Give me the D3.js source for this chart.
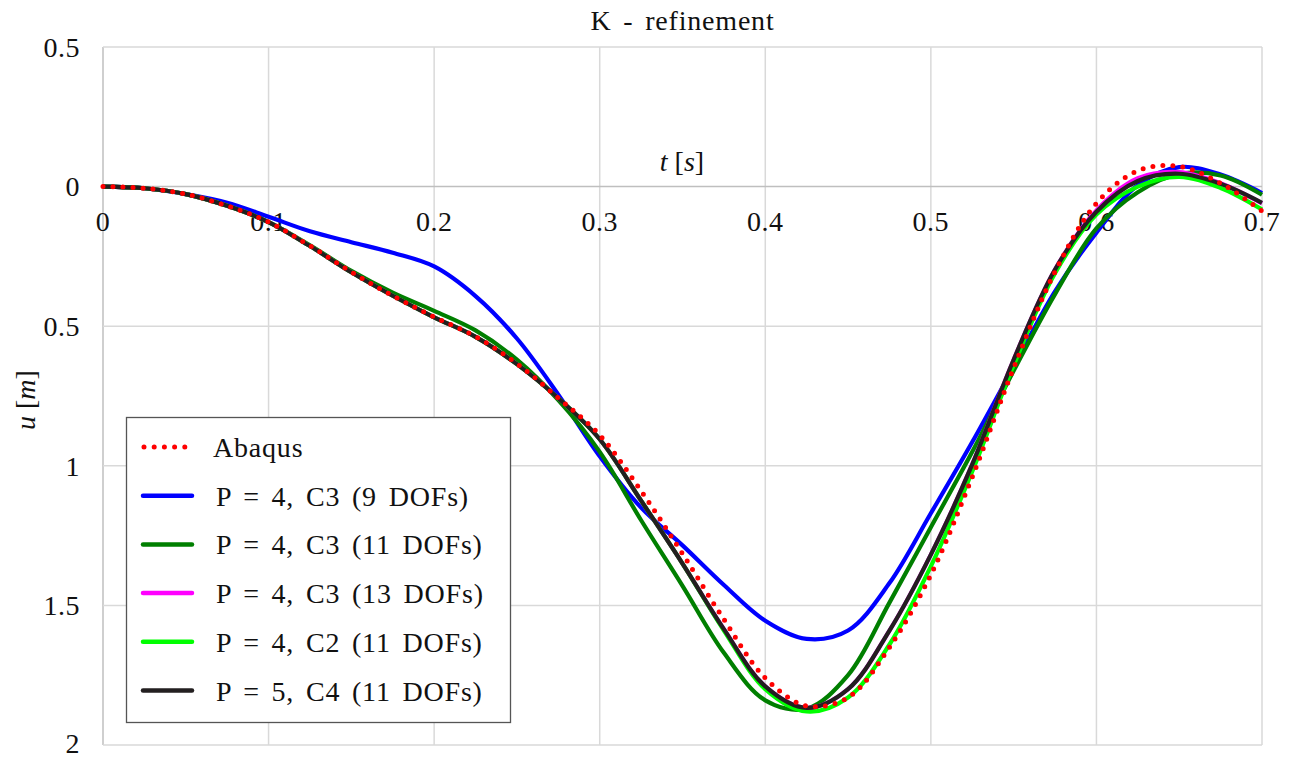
<!DOCTYPE html>
<html>
<head>
<meta charset="utf-8">
<script src="https://cdn.jsdelivr.net/npm/d3@7"></script>
<style>
  html, body { margin: 0; padding: 0; background: #fff; }
  svg text { font-family: "Liberation Serif", "DejaVu Serif", serif; fill: #111; }
</style>
</head>
<body>
<div id="app"></div>
<script>
// time samples shared by every series (s)
const times = [0, 0.025, 0.05, 0.075, 0.1, 0.125, 0.15, 0.175, 0.2, 0.225, 0.25, 0.275,
  0.3, 0.325, 0.35, 0.375, 0.4, 0.425, 0.45, 0.475, 0.5, 0.525, 0.55, 0.575,
  0.6, 0.625, 0.65, 0.675, 0.7];

// displacement u [m] (positive downward as plotted)
const abaqus = [0, 0.006, 0.027, 0.069, 0.127, 0.212, 0.306, 0.391, 0.467, 0.537, 0.634, 0.757,
  0.89, 1.09, 1.315, 1.55, 1.76, 1.86, 1.83, 1.65, 1.39, 1.04, 0.65, 0.305,
  0.06, -0.057, -0.072, -0.012, 0.088];
const p4c3dof9 = [0, 0.006, 0.027, 0.058, 0.108, 0.16, 0.199, 0.237, 0.286, 0.392, 0.544, 0.745,
  0.966, 1.15, 1.285, 1.427, 1.555, 1.62, 1.59, 1.42, 1.17, 0.915, 0.645, 0.375,
  0.165, -0.005, -0.07, -0.043, 0.023];
const p4c3dof11 = [0, 0.006, 0.027, 0.069, 0.127, 0.21, 0.302, 0.38, 0.445, 0.515, 0.62, 0.765,
  0.95, 1.195, 1.43, 1.67, 1.84, 1.87, 1.75, 1.49, 1.22, 0.95, 0.66, 0.385,
  0.15, 0.02, -0.045, -0.04, 0.029];
const p4c3dof13 = [0, 0.006, 0.027, 0.069, 0.127, 0.213, 0.307, 0.391, 0.468, 0.538, 0.636, 0.758,
  0.905, 1.125, 1.35, 1.585, 1.79, 1.867, 1.80, 1.59, 1.318, 0.995, 0.62, 0.297,
  0.085, -0.03, -0.052, -0.012, 0.06];
const p4c2dof11 = [0, 0.006, 0.027, 0.069, 0.127, 0.213, 0.307, 0.391, 0.468, 0.538, 0.636, 0.758,
  0.905, 1.125, 1.35, 1.59, 1.80, 1.88, 1.83, 1.64, 1.36, 1.02, 0.64, 0.31,
  0.1, 0.0, -0.035, 0.005, 0.082];
const p5c4dof11 = [0, 0.006, 0.027, 0.069, 0.127, 0.213, 0.307, 0.391, 0.468, 0.538, 0.636, 0.758,
  0.905, 1.125, 1.35, 1.585, 1.79, 1.867, 1.80, 1.59, 1.318, 0.995, 0.62, 0.297,
  0.09, -0.02, -0.046, -0.01, 0.058];

const seriesNames = ["Abaqus", "P = 4, C3 (9 DOFs)", "P = 4, C3 (11 DOFs)",
  "P = 4, C3 (13 DOFs)", "P = 4, C2 (11 DOFs)", "P = 5, C4 (11 DOFs)"];
const seriesColors = ["#ff0000", "#0000ff", "#007f00", "#ff00ff", "#00ff00", "#231f20"];
const seriesValues = [abaqus, p4c3dof9, p4c3dof11, p4c3dof13, p4c2dof11, p5c4dof11];

const xTicks = [0, 0.1, 0.2, 0.3, 0.4, 0.5, 0.6, 0.7];
const yTicks = [-0.5, 0, 0.5, 1, 1.5, 2];

const W = 1291, H = 758;
const margin = { top: 47, right: 29, bottom: 13, left: 103 };

const svg = d3.select('#app').append('svg')
  .attr('width', W).attr('height', H);

const x = d3.scaleLinear().domain([0, 0.7]).range([margin.left, W - margin.right]);
const y = d3.scaleLinear().domain([-0.5, 2]).range([margin.top, H - margin.bottom]);

// grid
const grid = svg.append('g');
grid.selectAll('line.v').data(xTicks).join('line')
  .attr('x1', d => x(d)).attr('x2', d => x(d))
  .attr('y1', y(-0.5)).attr('y2', y(2))
  .attr('stroke', d => d === 0 ? '#bfbfbf' : '#d9d9d9').attr('stroke-width', 1.5);
grid.selectAll('line.h').data(yTicks).join('line')
  .attr('x1', x(0)).attr('x2', x(0.7))
  .attr('y1', d => y(d)).attr('y2', d => y(d))
  .attr('stroke', d => d === 0 ? '#bfbfbf' : '#d9d9d9').attr('stroke-width', 1.5);

// y tick labels (shown as magnitudes)
svg.append('g').selectAll('text').data(yTicks).join('text')
  .attr('x', 80).attr('y', d => d === 2 ? y(d) - 2 : y(d))
  .attr('dy', '0.35em')
  .attr('text-anchor', 'end')
  .attr('font-size', 28)
  .style('letter-spacing', '0.5px')
  .text(d => String(Math.abs(d)));

// x tick labels below the zero line
svg.append('g').selectAll('text').data(xTicks).join('text')
  .attr('x', d => x(d)).attr('y', y(0) + 44)
  .attr('text-anchor', 'middle')
  .attr('font-size', 28)
  .style('letter-spacing', '0.5px')
  .text(d => String(d));

// title and axis labels
svg.append('text').attr('x', (x(0) + x(0.7)) / 2).attr('y', 30)
  .attr('text-anchor', 'middle').attr('font-size', 28)
  .style('word-spacing', '4px').style('letter-spacing', '0.8px')
  .text('K - refinement');

const tl = svg.append('text').attr('x', 682).attr('y', 171)
  .attr('text-anchor', 'middle').attr('font-size', 28);
tl.append('tspan').attr('font-style', 'italic').text('t');
tl.append('tspan').text(' [');
tl.append('tspan').attr('font-style', 'italic').text('s');
tl.append('tspan').text(']');

const ul = svg.append('text')
  .attr('transform', `translate(35,${(y(-0.5) + y(2)) / 2 + 4}) rotate(-90)`)
  .attr('text-anchor', 'middle').attr('font-size', 28);
ul.append('tspan').attr('font-style', 'italic').text('u');
ul.append('tspan').text(' [');
ul.append('tspan').attr('font-style', 'italic').text('m');
ul.append('tspan').text(']');

// curves
const line = d3.line()
  .x((d, i) => x(times[i]))
  .y(d => y(d))
  .curve(d3.curveCatmullRom.alpha(0.5));

const drawOrder = [1, 2, 3, 4, 5, 0];
const curves = svg.append('g');
drawOrder.forEach(k => {
  const p = curves.append('path')
    .attr('d', line(seriesValues[k]))
    .attr('fill', 'none')
    .attr('stroke', seriesColors[k]);
  if (k === 0) {
    p.attr('stroke-width', 5).attr('stroke-linecap', 'round').attr('stroke-dasharray', '0 10');
  } else {
    p.attr('stroke-width', 4.2).attr('stroke-linejoin', 'round');
  }
});

// legend
const lg = svg.append('g');
lg.append('rect').attr('x', 126.5).attr('y', 417.5).attr('width', 384).attr('height', 305)
  .attr('fill', '#fff').attr('stroke', '#555').attr('stroke-width', 1.3);
seriesNames.forEach((name, k) => {
  const cy = 447 + k * 48.7;
  const l = lg.append('line')
    .attr('x1', 143).attr('x2', 192).attr('y1', cy).attr('y2', cy)
    .attr('stroke', seriesColors[k]).attr('stroke-linecap', 'round');
  if (k === 0) {
    l.attr('x1', 144).attr('x2', 185).attr('stroke-width', 5).attr('stroke-dasharray', '0 10.2');
  } else {
    l.attr('stroke-width', 4.5);
  }
  lg.append('text')
    .attr('x', k === 0 ? 213 : 216).attr('y', cy + 10)
    .attr('font-size', 28)
    .style('word-spacing', '4px').style('letter-spacing', '0.8px')
    .text(name);
});
</script>
</body>
</html>
